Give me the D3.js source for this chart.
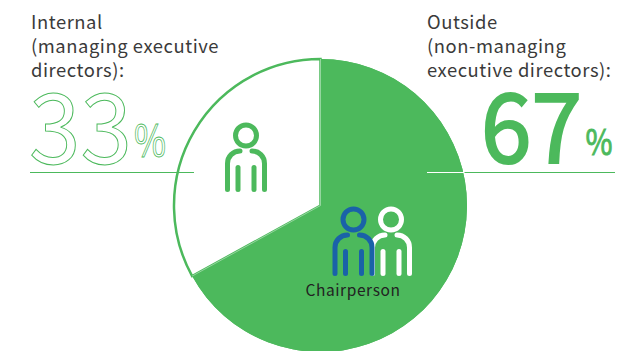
<!DOCTYPE html>
<html>
<head>
<meta charset="utf-8">
<script src="https://cdn.jsdelivr.net/npm/d3@7"></script>
<style>
  html, body { margin: 0; padding: 0; background: #fff; }
  svg { display: block; }
  text { font-family: "Noto Sans CJK JP", "Noto Sans", sans-serif; }
</style>
</head>
<body>
<svg class="chart" width="617" height="351"></svg>
<script>
const categories = ['Outside', 'Internal']
const shares = [67, 33]
const internalLabel = ['Internal', '(managing executive', 'directors):']
const outsideLabel = ['Outside', '(non-managing', 'executive directors):']
const chairLabel = 'Chairperson'

const green = '#4cb95c'
const blue = '#1a62a8'
const textColor = '#3a3a3a'

const svg = d3.select('.chart')
const cx = 320.5
const cy = 205.5
const radius = 146.5

const pieData = d3.pie().sort(null)(shares)
const arc = d3.arc().innerRadius(0).outerRadius(radius)

const g = svg.append('g')
  .attr('transform', `translate(${cx},${cy})`)

g.selectAll('path.slice')
  .data(pieData)
  .join('path')
  .attr('class', 'slice')
  .attr('d', arc)
  .attr('fill', (d, i) => categories[i] === 'Outside' ? green : '#fff')
  .attr('stroke', (d, i) => categories[i] === 'Outside' ? 'none' : green)
  .attr('stroke-width', 2.5)

// redraw green slice so its edge sits on top of the white slice stroke
g.append('path')
  .attr('d', arc(pieData[0]))
  .attr('fill', green)

// pale seam between the two slices
g.append('path')
  .attr('d', d3.line()([
    d3.pointRadial(pieData[0].startAngle, radius),
    [0, 0],
    d3.pointRadial(pieData[0].endAngle, radius)
  ]))
  .attr('fill', 'none')
  .attr('stroke', '#b5e2bc')
  .attr('stroke-width', 0.7)

// rules
svg.append('line')
  .attr('x1', 30).attr('x2', 194).attr('y1', 172.5).attr('y2', 172.5)
  .attr('stroke', green).attr('stroke-width', 1)
svg.append('line')
  .attr('x1', 427).attr('x2', 464.5).attr('y1', 172.5).attr('y2', 172.5)
  .attr('stroke', '#fff').attr('stroke-width', 1)
svg.append('line')
  .attr('x1', 464.5).attr('x2', 615).attr('y1', 172.5).attr('y2', 172.5)
  .attr('stroke', green).attr('stroke-width', 1)

// label blocks
const drawLabel = (lines, x) => {
  svg.append('g').selectAll('text')
    .data(lines)
    .join('text')
    .attr('x', x)
    .attr('y', (d, i) => 29 + i * 24)
    .attr('font-size', 18.4)
    .attr('letter-spacing', 0.55)
    .attr('fill', textColor)
    .text(d => d)
}
drawLabel(internalLabel, 31)
drawLabel(outsideLabel, 427)

// big numbers
svg.append('text')
  .attr('x', 29).attr('y', 163.5)
  .attr('font-size', 98)
  .attr('textLength', 103)
  .attr('lengthAdjust', 'spacingAndGlyphs')
  .attr('fill', '#fff')
  .attr('stroke', green)
  .attr('stroke-width', 1)
  .text(shares[1])
svg.append('text')
  .attr('x', 134).attr('y', 156)
  .attr('font-size', 42)
  .attr('textLength', 32)
  .attr('lengthAdjust', 'spacingAndGlyphs')
  .attr('fill', '#fff')
  .attr('stroke', green)
  .attr('stroke-width', 0.8)
  .text('%')
// regular weight with a stroke: the installed bold is heavier than the reference
svg.append('text')
  .attr('x', 481).attr('y', 163)
  .attr('font-size', 97)
  .attr('textLength', 101)
  .attr('lengthAdjust', 'spacingAndGlyphs')
  .attr('fill', green)
  .attr('stroke', green)
  .attr('stroke-width', 2.2)
  .text(shares[0])
svg.append('text')
  .attr('x', 585.5).attr('y', 155)
  .attr('font-size', 36)
  .attr('textLength', 27)
  .attr('lengthAdjust', 'spacingAndGlyphs')
  .attr('fill', green)
  .attr('stroke', green)
  .attr('stroke-width', 0.9)
  .text('%')

// person icon, origin at the centre of the head
const person = (x, y, color) => {
  const p = svg.append('g')
    .attr('transform', `translate(${x},${y})`)
    .attr('fill', 'none')
    .attr('stroke', color)
    .attr('stroke-width', 5)
    .attr('stroke-linecap', 'round')
  p.append('circle').attr('r', 10.5)
  p.append('path').attr('d', 'M-6,15.5C-13,15.5 -18.5,21 -18.5,28V54')
  p.append('path').attr('d', 'M6,15.5C13,15.5 18.5,21 18.5,28V54')
  p.append('path').attr('d', 'M-8,32V54')
  p.append('path').attr('d', 'M8,32V54')
}
person(246, 135.5, green)
person(391, 219.5, '#fff')
person(353.5, 219.5, blue)

svg.append('text')
  .attr('x', 353).attr('y', 296)
  .attr('text-anchor', 'middle')
  .attr('font-size', 15.5)
  .attr('letter-spacing', 0.6)
  .attr('fill', '#222')
  .text(chairLabel)
</script>
</body>
</html>
